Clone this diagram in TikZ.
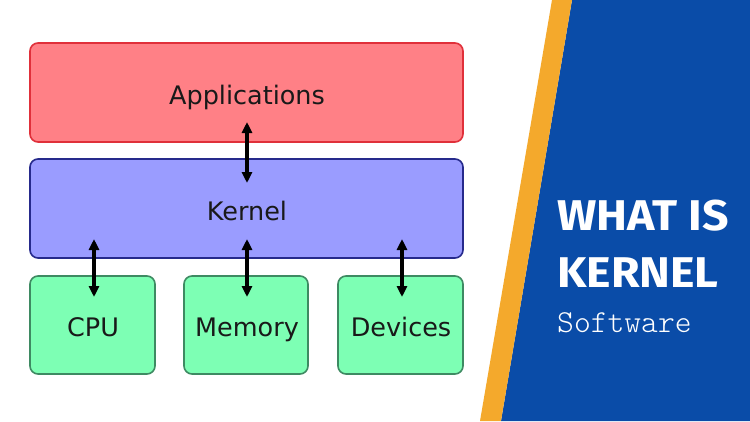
\documentclass[tikz,border=0pt]{standalone}
\usepackage{fontspec}
\setmainfont{DejaVu Sans}
\newfontfamily\titlefont{Fira Sans}
\usetikzlibrary{arrows.meta}
\definecolor{appfill}{HTML}{FF8086}
\definecolor{appline}{HTML}{E0303A}
\definecolor{kerfill}{HTML}{9A9CFF}
\definecolor{kerline}{HTML}{262A8C}
\definecolor{hwfill}{HTML}{7DFFB4}
\definecolor{hwline}{HTML}{3E8A62}
\definecolor{panelblue}{HTML}{0A4CA8}
\definecolor{stripe}{HTML}{F4A92C}
\tikzset{
  layer/.style={rounded corners=8pt, line width=1.6pt, inner sep=0pt},
  lbl/.style={anchor=base, inner sep=0pt, font=\fontsize{25.5}{28}\selectfont, text=black!90},
  tip/.tip={Triangle[length=11pt,width=10pt]},
  link/.style={tip-tip, line width=3.2pt, black},
  ttl/.style={anchor=base west, inner sep=0pt, text=white, xscale=1.08, font=\titlefont\bfseries\fontsize{43}{43}\selectfont}
}
\begin{document}
\begin{tikzpicture}[x=1pt,y=-1pt]
\useasboundingbox (0,0) rectangle (750,421);
\fill[white] (0,0) rectangle (750,421);
% right panel
\fill[panelblue] (572,0) -- (750,0) -- (750,421) -- (501,421) -- cycle;
\fill[stripe] (552,0) -- (572,0) -- (501,421) -- (480,421) -- cycle;
% boxes
\draw[layer, fill=appfill, draw=appline] (30,43) rectangle (463,142);
\draw[layer, fill=kerfill, draw=kerline] (30,159) rectangle (463,258);
\draw[layer, fill=hwfill, draw=hwline] (30,276) rectangle (155,374);
\draw[layer, fill=hwfill, draw=hwline] (184,276) rectangle (308,374);
\draw[layer, fill=hwfill, draw=hwline] (338,276) rectangle (463,374);
\node[lbl] (app) at (247,104) {Applications};
\node[lbl] (ker) at (247,220) {Kernel};
\node[lbl] (cpu) at (93,336) {CPU};
\node[lbl] (mem) at (247,336) {Memory};
\node[lbl] (dev) at (401,336) {Devices};
\coordinate (a1) at (247,122);
\coordinate (k1) at (247,183);
\coordinate (k2) at (94,239);
\coordinate (c2) at (94,297);
\coordinate (k3) at (247,239);
\coordinate (m3) at (247,297);
\coordinate (k4) at (402,239);
\coordinate (d4) at (402,297);
\draw[link] (a1) -- (k1);
\draw[link] (k2) -- (c2);
\draw[link] (k3) -- (m3);
\draw[link] (k4) -- (d4);
% title
\node[ttl] (t1) at (557,230) {WHAT IS};
\node[ttl] (t2) at (557,287) {KERNEL};
\node[anchor=base west, inner sep=0pt, text=white, font=\fontseries{l}\ttfamily\fontsize{32}{32}\selectfont] (t3) at (557,332) {Software};
\end{tikzpicture}
\end{document}
